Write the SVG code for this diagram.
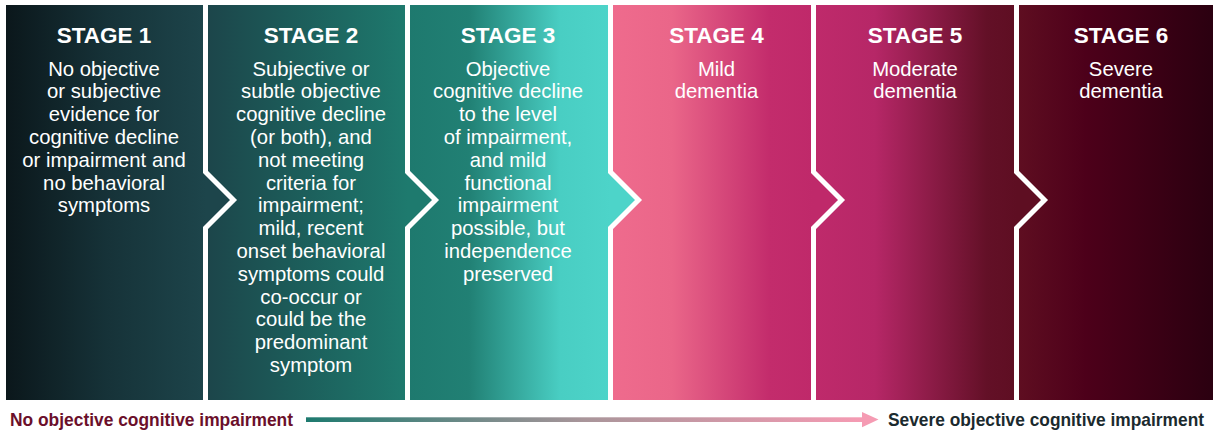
<svg xmlns="http://www.w3.org/2000/svg" width="1214" height="432" viewBox="0 0 1214 432">
<defs>
<linearGradient id="g1" gradientUnits="userSpaceOnUse" x1="6" y1="0" x2="206" y2="0"><stop offset="0" stop-color="#0b171b"/><stop offset="0.5" stop-color="#163238"/><stop offset="1" stop-color="#1d454b"/></linearGradient>
<linearGradient id="g2" gradientUnits="userSpaceOnUse" x1="206" y1="0" x2="408" y2="0"><stop offset="0" stop-color="#1c454a"/><stop offset="0.4" stop-color="#1c5a58"/><stop offset="1" stop-color="#1e7a6e"/></linearGradient>
<linearGradient id="g3" gradientUnits="userSpaceOnUse" x1="408" y1="0" x2="611" y2="0"><stop offset="0" stop-color="#1e796e"/><stop offset="0.3" stop-color="#218074"/><stop offset="0.75" stop-color="#49cec3"/><stop offset="1" stop-color="#4dd4c9"/></linearGradient>
<linearGradient id="g4" gradientUnits="userSpaceOnUse" x1="611" y1="0" x2="814" y2="0"><stop offset="0" stop-color="#ef6b8d"/><stop offset="0.3" stop-color="#ea6689"/><stop offset="0.78" stop-color="#c32c6c"/><stop offset="1" stop-color="#bf296a"/></linearGradient>
<linearGradient id="g5" gradientUnits="userSpaceOnUse" x1="814" y1="0" x2="1017" y2="0"><stop offset="0" stop-color="#bf2a6b"/><stop offset="0.3" stop-color="#b62767"/><stop offset="0.85" stop-color="#631027"/><stop offset="1" stop-color="#5e0e22"/></linearGradient>
<linearGradient id="g6" gradientUnits="userSpaceOnUse" x1="1017" y1="0" x2="1213" y2="0"><stop offset="0" stop-color="#5f0e21"/><stop offset="0.35" stop-color="#4d001a"/><stop offset="1" stop-color="#2b0010"/></linearGradient>
<linearGradient id="ga" gradientUnits="userSpaceOnUse" x1="306" y1="0" x2="862" y2="0"><stop offset="0" stop-color="#1d7a6f"/><stop offset="0.5" stop-color="#a9959a"/><stop offset="1" stop-color="#f59bb3"/></linearGradient>
</defs>
<style>
.t{font-family:"Liberation Sans",Arial,sans-serif;font-weight:bold;font-size:22.5px;fill:#ffffff;text-anchor:middle}
.b{font-family:"Liberation Sans",Arial,sans-serif;font-size:20.3px;fill:#ffffff;text-anchor:middle}
.sep{fill:none;stroke:#ffffff;stroke-width:5;stroke-linejoin:miter}
.lab{font-family:"Liberation Sans",Arial,sans-serif;font-weight:bold;font-size:19px}
</style>
<g id="stage6">
<polygon points="1016.5,5 1213,5 1213,400 1016.5,400" fill="url(#g6)"/>
<text class="t" x="1121" y="42.5">STAGE 6</text>
<text class="b" x="1121"><tspan x="1121" y="75.5">Severe</tspan><tspan x="1121" y="98.3">dementia</tspan></text>
</g>
<g id="stage5">
<polygon points="813.5,5 1016.5,5 1016.5,172 1044.5,200 1016.5,228 1016.5,400 813.5,400" fill="url(#g5)"/>
<text class="t" x="915" y="42.5">STAGE 5</text>
<text class="b"><tspan x="915" y="75.5">Moderate</tspan><tspan x="915" y="98.3">dementia</tspan></text>
</g>
<g id="stage4">
<polygon points="610.5,5 813.5,5 813.5,172 841.5,200 813.5,228 813.5,400 610.5,400" fill="url(#g4)"/>
<text class="t" x="716.5" y="42.5">STAGE 4</text>
<text class="b"><tspan x="716.5" y="75.5">Mild</tspan><tspan x="716.5" y="98.3">dementia</tspan></text>
</g>
<g id="stage3">
<polygon points="407.5,5 610.5,5 610.5,172 638.5,200 610.5,228 610.5,400 407.5,400" fill="url(#g3)"/>
<text class="t" x="508" y="42.5">STAGE 3</text>
<text class="b"><tspan x="508" y="75.5">Objective</tspan><tspan x="508" y="98.3">cognitive decline</tspan><tspan x="508" y="121.1">to the level</tspan><tspan x="508" y="143.9">of impairment,</tspan><tspan x="508" y="166.7">and mild</tspan><tspan x="508" y="189.5">functional</tspan><tspan x="508" y="212.3">impairment</tspan><tspan x="508" y="235.1">possible, but</tspan><tspan x="508" y="257.9">independence</tspan><tspan x="508" y="280.7">preserved</tspan></text>
</g>
<g id="stage2">
<polygon points="205.5,5 407.5,5 407.5,172 435.5,200 407.5,228 407.5,400 205.5,400" fill="url(#g2)"/>
<text class="t" x="311" y="42.5">STAGE 2</text>
<text class="b"><tspan x="311" y="75.5">Subjective or</tspan><tspan x="311" y="98.3">subtle objective</tspan><tspan x="311" y="121.1">cognitive decline</tspan><tspan x="311" y="143.9">(or both), and</tspan><tspan x="311" y="166.7">not meeting</tspan><tspan x="311" y="189.5">criteria for</tspan><tspan x="311" y="212.3">impairment;</tspan><tspan x="311" y="235.1">mild, recent</tspan><tspan x="311" y="257.9">onset behavioral</tspan><tspan x="311" y="280.7">symptoms could</tspan><tspan x="311" y="303.5">co-occur or</tspan><tspan x="311" y="326.3">could be the</tspan><tspan x="311" y="349.1">predominant</tspan><tspan x="311" y="371.9">symptom</tspan></text>
</g>
<g id="stage1">
<polygon points="6,5 205.5,5 205.5,172 233.5,200 205.5,228 205.5,400 6,400" fill="url(#g1)"/>
<text class="t" x="104" y="42.5">STAGE 1</text>
<text class="b"><tspan x="104" y="75.5">No objective</tspan><tspan x="104" y="98.3">or subjective</tspan><tspan x="104" y="121.1">evidence for</tspan><tspan x="104" y="143.9">cognitive decline</tspan><tspan x="104" y="166.7">or impairment and</tspan><tspan x="104" y="189.5">no behavioral</tspan><tspan x="104" y="212.3">symptoms</tspan></text>
</g>
<g id="separators">
<polyline class="sep" points="205.5,5 205.5,172 233.5,200 205.5,228 205.5,400"/>
<polyline class="sep" points="407.5,5 407.5,172 435.5,200 407.5,228 407.5,400"/>
<polyline class="sep" points="610.5,5 610.5,172 638.5,200 610.5,228 610.5,400"/>
<polyline class="sep" points="813.5,5 813.5,172 841.5,200 813.5,228 813.5,400"/>
<polyline class="sep" points="1016.5,5 1016.5,172 1044.5,200 1016.5,228 1016.5,400"/>
</g>
<g id="connectors">
<rect x="306" y="417.3" width="557" height="4.7" fill="url(#ga)"/>
<polygon points="862,412 878.5,419.6 862,427.2" fill="#f59bb3"/>
</g>
<g id="label-left">
<text class="lab" x="10" y="425.7" fill="#6b0f2b" textLength="283" lengthAdjust="spacingAndGlyphs">No objective cognitive impairment</text>
</g>
<g id="label-right">
<text class="lab" x="888" y="425.7" fill="#1b2a2e" textLength="316" lengthAdjust="spacingAndGlyphs">Severe objective cognitive impairment</text>
</g>
</svg>
